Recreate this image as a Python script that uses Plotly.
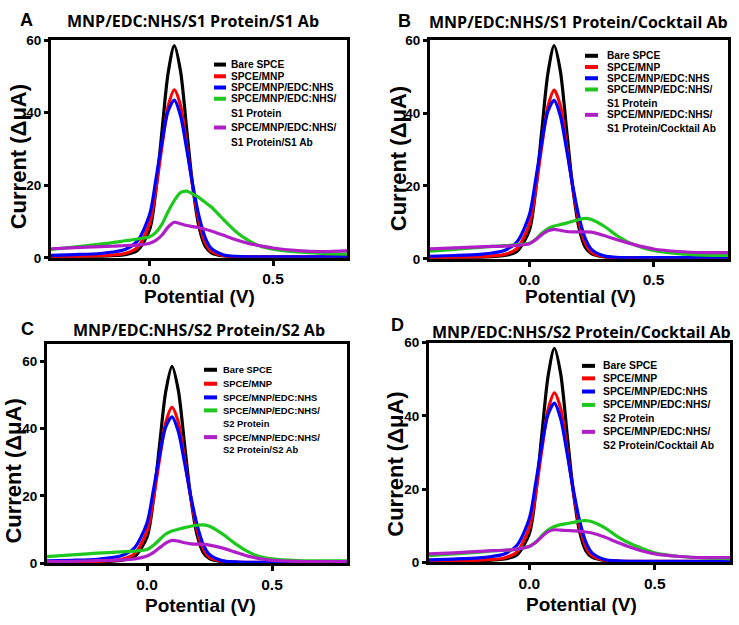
import plotly.graph_objects as go

W, H = 739, 625

# ---------------- data ----------------
potential = [-0.40, -0.30, -0.20, -0.15, -0.10, -0.05, 0.00, 0.025, 0.05, 0.075,
             0.10, 0.125, 0.15, 0.175, 0.20, 0.225, 0.25, 0.30, 0.35, 0.40,
             0.45, 0.50, 0.60, 0.70, 0.80]

bare_spce = [0.2, 0.3, 0.4, 0.6, 0.9, 2.0, 7.8, 18.5, 35.0, 51.0,
             58.5, 51.5, 35.5, 19.5, 8.5, 3.2, 1.4, 0.5, 0.3, 0.2,
             0.2, 0.2, 0.2, 0.2, 0.2]
spce_mnp = [0.3, 0.4, 0.6, 0.8, 1.2, 2.8, 9.5, 18.8, 30.8, 41.8,
            46.3, 42.0, 31.0, 19.5, 10.0, 4.3, 1.8, 0.6, 0.35, 0.3,
            0.3, 0.3, 0.3, 0.3, 0.3]
spce_mnp_edc = [0.7, 0.9, 1.2, 1.6, 2.3, 4.6, 12.0, 21.5, 32.0, 40.5,
                43.5, 39.2, 30.0, 20.0, 11.5, 5.6, 2.6, 0.8, 0.4, 0.3,
                0.3, 0.3, 0.3, 0.3, 0.3]

protein_A = [2.3, 3.0, 3.8, 4.2, 4.7, 5.2, 5.8, 7.0, 9.3, 12.8,
             15.8, 18.0, 18.4, 17.6, 16.6, 15.3, 14.0, 10.5, 7.2, 4.8,
             3.2, 2.4, 1.6, 1.2, 1.0]
antibody_A = [2.5, 2.8, 3.1, 3.2, 3.4, 3.5, 4.0, 4.8, 6.3, 8.5,
              9.8, 9.4, 8.9, 8.6, 8.3, 7.9, 7.4, 6.2, 5.0, 4.0,
              3.3, 2.7, 2.0, 1.7, 1.9]

protein_B = [2.1, 2.6, 3.1, 3.4, 3.6, 3.9, 4.3, 5.3, 7.0, 8.3,
             9.0, 9.4, 9.8, 10.3, 10.8, 11.1, 10.8, 9.0, 6.5, 4.5,
             3.2, 2.3, 1.4, 1.0, 0.9]
antibody_B = [2.7, 3.0, 3.3, 3.4, 3.5, 3.7, 4.1, 5.2, 6.6, 7.7,
              8.1, 7.8, 7.5, 7.4, 7.4, 7.4, 7.3, 6.4, 5.3, 4.3,
              3.4, 2.7, 2.0, 1.7, 1.7]

protein_C = [2.0, 2.5, 3.0, 3.2, 3.4, 3.6, 4.1, 5.3, 7.0, 8.7,
             9.6, 10.1, 10.6, 11.0, 11.3, 11.4, 11.0, 8.8, 6.0, 3.6,
             2.0, 1.3, 0.8, 0.7, 0.7]
antibody_C = [0.5, 0.6, 0.8, 0.9, 1.0, 1.3, 2.2, 3.2, 4.6, 6.0,
              6.8, 6.6, 6.1, 5.8, 5.7, 5.6, 5.4, 4.6, 3.4, 2.2,
              1.4, 0.9, 0.6, 0.5, 0.5]

protein_D = [1.8, 2.3, 2.8, 3.1, 3.3, 3.6, 4.4, 5.5, 7.3, 8.9,
             9.8, 10.3, 10.6, 10.9, 11.3, 11.4, 11.1, 9.5, 7.1, 5.2,
             3.8, 2.6, 1.6, 1.2, 1.0]
antibody_D = [2.3, 2.6, 3.0, 3.2, 3.3, 3.6, 4.3, 5.4, 7.0, 8.4,
              8.9, 8.8, 8.7, 8.6, 8.5, 8.3, 8.0, 6.9, 5.5, 4.2,
              3.1, 2.3, 1.6, 1.3, 1.3]

panel_letters = ["A", "B", "C", "D"]
panel_titles = ["MNP/EDC:NHS/S1 Protein/S1 Ab",
                "MNP/EDC:NHS/S1 Protein/Cocktail Ab",
                "MNP/EDC:NHS/S2 Protein/S2 Ab",
                "MNP/EDC:NHS/S2 Protein/Cocktail Ab"]
legend_labels = [
    ["Bare SPCE", "SPCE/MNP", "SPCE/MNP/EDC:NHS",
     "SPCE/MNP/EDC:NHS/|S1 Protein", "SPCE/MNP/EDC:NHS/|S1 Protein/S1 Ab"],
    ["Bare SPCE", "SPCE/MNP", "SPCE/MNP/EDC:NHS",
     "SPCE/MNP/EDC:NHS/|S1 Protein", "SPCE/MNP/EDC:NHS/|S1 Protein/Cocktail Ab"],
    ["Bare SPCE", "SPCE/MNP", "SPCE/MNP/EDC:NHS",
     "SPCE/MNP/EDC:NHS/|S2 Protein", "SPCE/MNP/EDC:NHS/|S2 Protein/S2 Ab"],
    ["Bare SPCE", "SPCE/MNP", "SPCE/MNP/EDC:NHS",
     "SPCE/MNP/EDC:NHS/|S2 Protein", "SPCE/MNP/EDC:NHS/|S2 Protein/Cocktail Ab"],
]
panel_series = [
    [bare_spce, spce_mnp, spce_mnp_edc, protein_A, antibody_A],
    [bare_spce, spce_mnp, spce_mnp_edc, protein_B, antibody_B],
    [bare_spce, spce_mnp, spce_mnp_edc, protein_C, antibody_C],
    [bare_spce, spce_mnp, spce_mnp_edc, protein_D, antibody_D],
]
y_max = [60, 60, 65.2, 60]
x_ticks = [0.0, 0.5]
x_tick_text = ["0.0", "0.5"]
y_ticks = [0, 20, 40, 60]

# ---------------- styling / layout ----------------
colors = ["#000000", "#ff0000", "#0000ff", "#1ec81e", "#b01ec8"]

# plot boxes in pixels: (left, right, top, bottom)
boxes = [(51, 347, 34, 257), (430, 728, 34, 258), (47, 347, 345, 570), (429, 730, 344, 569)]
letter_pos = [(26, 13), (404, 14), (27, 330), (397, 326)]
title_pos = [(193, 14), (578, 15), (199, 331), (581, 333)]
ytitle_pos = [(18, 154), (398, 156), (14, 476), (396, 469)]
xtitle_pos = [(199, 297), (580, 297), (201, 613), (581, 612)]
# legend: swatch x0, x1, text x, item y list, second-line offset, font size
legend_geo = [
    (214, 226, 229, [59, 71, 82.5, 94, 123.5], 15, 10.2),
    (585, 598, 605, [50, 61.5, 73, 84.5, 110.5], 14, 10.2),
    (204, 217, 221, [371.7, 386, 400, 413.3, 440.7], 13, 9.4),
    (582, 595, 601, [367.7, 380.5, 394, 407.7, 435.3], 14, 10.4),
]

def fx(px):
    return px / W

def fy(py):
    return 1 - py / H

fig = go.Figure()
layout = dict(width=W, height=H, margin=dict(l=0, r=0, t=0, b=0),
              paper_bgcolor="white", plot_bgcolor="white", showlegend=False)
annotations = []
shapes = []

for i in range(4):
    xa = "x" if i == 0 else f"x{i+1}"
    ya = "y" if i == 0 else f"y{i+1}"
    for k, ser in enumerate(panel_series[i]):
        fig.add_trace(go.Scatter(x=potential, y=ser, mode="lines",
                                 line=dict(color=colors[k], width=3.2, shape="spline", smoothing=0.8),
                                 xaxis=xa, yaxis=ya, hoverinfo="skip"))
    l, r, t, b = boxes[i]
    xname = "xaxis" if i == 0 else f"xaxis{i+1}"
    yname = "yaxis" if i == 0 else f"yaxis{i+1}"
    layout[xname] = dict(domain=[fx(l), fx(r)], range=[-0.4, 0.8], anchor=ya,
                         showgrid=False, zeroline=False, showline=True, mirror=True,
                         linecolor="black", linewidth=3, ticks="outside", ticklen=5,
                         tickwidth=2.5, tickcolor="black", tickvals=x_ticks, ticktext=x_tick_text,
                         tickfont=dict(family="Liberation Sans", size=15.5, color="black", weight="bold"))
    layout[yname] = dict(domain=[fy(b), fy(t)], range=[0, y_max[i]], anchor=xa,
                         showgrid=False, zeroline=False, showline=True, mirror=True,
                         linecolor="black", linewidth=3, ticks="outside", ticklen=4,
                         tickwidth=2.5, tickcolor="black", tickvals=y_ticks,
                         tickfont=dict(family="Liberation Sans", size=13.5, color="black", weight="bold"))
    # panel letter & title
    annotations.append(dict(x=fx(letter_pos[i][0]), y=fy(letter_pos[i][1]), xref="paper", yref="paper",
                            text=f"<b>{panel_letters[i]}</b>", showarrow=False,
                            font=dict(family="Liberation Sans", size=18, color="black"),
                            xanchor="center", yanchor="middle"))
    annotations.append(dict(x=fx(title_pos[i][0]), y=fy(title_pos[i][1]), xref="paper", yref="paper",
                            text=f"<b>{panel_titles[i]}</b>", showarrow=False,
                            font=dict(family="Open Sans", size=16, color="black"),
                            xanchor="center", yanchor="middle"))
    # axis titles
    annotations.append(dict(x=fx(ytitle_pos[i][0]), y=fy(ytitle_pos[i][1]), xref="paper", yref="paper",
                            text="<b>Current (\u0394\u03bcA)</b>", showarrow=False, textangle=-90,
                            font=dict(family="Liberation Sans", size=22, color="black"),
                            xanchor="center", yanchor="middle"))
    annotations.append(dict(x=fx(xtitle_pos[i][0]), y=fy(xtitle_pos[i][1]), xref="paper", yref="paper",
                            text="<b>Potential (V)</b>", showarrow=False,
                            font=dict(family="Liberation Sans", size=19, color="black"),
                            xanchor="center", yanchor="middle"))
    # legend
    sx0, sx1, tx, ys, off, fs = legend_geo[i]
    for k, lab in enumerate(legend_labels[i]):
        yy = ys[k]
        shapes.append(dict(type="line", xref="paper", yref="paper",
                           x0=fx(sx0), x1=fx(sx1), y0=fy(yy), y1=fy(yy),
                           line=dict(color=colors[k], width=4)))
        parts = lab.split("|")
        for j, p in enumerate(parts):
            annotations.append(dict(x=fx(tx), y=fy(yy + j * off), xref="paper", yref="paper",
                                    text=f"<b>{p}</b>", showarrow=False,
                                    font=dict(family="Liberation Sans", size=fs, color="black"),
                                    xanchor="left", yanchor="middle"))

layout["annotations"] = annotations
layout["shapes"] = shapes
fig.update_layout(**layout)
fig.write_html("out.html", config={"displayModeBar": False},
               post_script="document.body.style.margin='0';document.body.style.overflow='hidden';")
